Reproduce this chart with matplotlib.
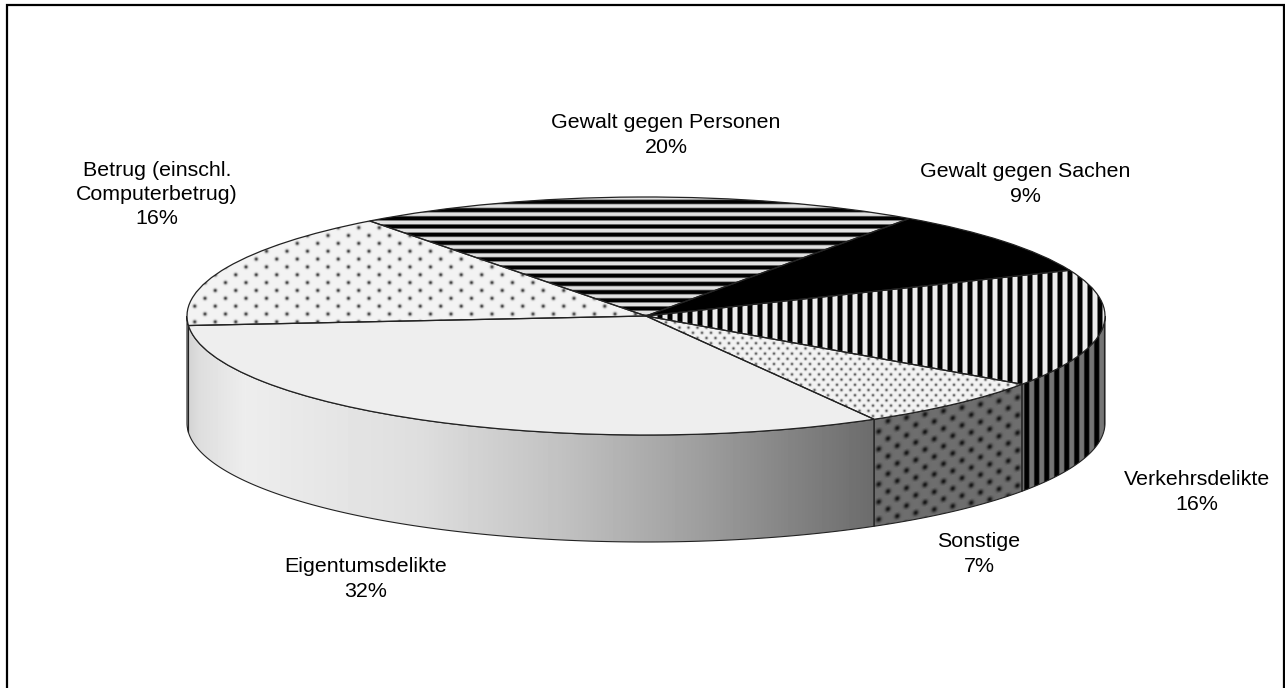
import numpy as np
import matplotlib
matplotlib.use("Agg")
import matplotlib.pyplot as plt
from matplotlib.patches import Polygon, Rectangle

plt.rcParams['font.family'] = ['Liberation Sans', 'DejaVu Sans']

categories = ["Gewalt gegen Personen", "Gewalt gegen Sachen", "Verkehrsdelikte",
              "Sonstige", "Eigentumsdelikte", "Betrug (einschl.\nComputerbetrug)"]
shares = [20, 9, 16, 7, 32, 16]

W, H = 1285, 688
CX, CY, A, B, DEPTH = 646.0, 316.0, 459.0, 119.0, 107.0
START = 127.0

fig = plt.figure(figsize=(W / 100, H / 100), dpi=100, facecolor="white")
ax = fig.add_axes([0, 0, 1, 1])
wedges, _ = ax.pie(shares, startangle=START, counterclock=False, radius=1,
                   wedgeprops=dict(facecolor="none", edgecolor="none"))
ax.set_aspect("auto")
ax.set_xlim(-CX / A, (W - CX) / A)
ax.set_ylim((CY - H) / B, CY / B)
ax.axis("off")
extent = (-CX / A, (W - CX) / A, (CY - H) / B, CY / B)
X, Y = np.meshgrid(np.arange(W) + 0.5, np.arange(H) + 0.5)


def hstripes(period=8.2, low=0.0, high=0.88):
    v = 0.5 + 0.5 * np.cos(2 * np.pi * (Y - 206) / period)
    return low + (high - low) * np.clip((v - 0.22) / 0.6, 0, 1)


def vstripes(period=10.0, low=0.0, high=0.92, x0=5.0):
    v = 0.5 + 0.5 * np.cos(2 * np.pi * (X - x0) / period)
    return low + (high - low) * np.clip((v - 0.25) / 0.5, 0, 1)


def dots(dx, dy, bg, fg, sigma, shear=0.0):
    Yy = Y + shear * X
    row = np.round(Yy / dy)
    xx = X - (row % 2) * dx / 2
    col = np.round(xx / dx)
    d2 = (xx - col * dx) ** 2 + (Yy - row * dy) ** 2
    return bg + (fg - bg) * np.exp(-d2 / (2 * sigma ** 2))


def wall_shade():
    xs = [187, 200, 245, 420, 560, 700, 875, 1285]
    vs = [0.82, 0.87, 0.93, 0.87, 0.76, 0.62, 0.42, 0.42]
    return np.interp(X, xs, vs)


top_tex = [hstripes(), np.zeros_like(X), vstripes(),
           dots(9.0, 5.2, 0.95, 0.35, 1.0),
           np.full_like(X, 0.93),
           dots(20.5, 7.85, 0.95, 0.25, 1.3)]
wall_tex = [wall_shade(), wall_shade(), vstripes(low=0.0, high=0.46, x0=1.7),
            dots(18.5, 8.8, 0.43, 0.08, 1.9, shear=0.18),
            wall_shade(), wall_shade()]


def draw(tex, clip, z):
    im = ax.imshow(tex, cmap="gray", vmin=0, vmax=1, extent=extent, origin="upper",
                   aspect="auto", interpolation="nearest", zorder=z)
    im.set_clip_path(clip)


d = DEPTH / B
for w, tex in zip(wedges, wall_tex):
    a0, a1 = sorted((w.theta1, w.theta2))
    # keep only the part of the slice facing the viewer
    spans = []
    for k in (-360, 0, 360):
        lo, hi = max(a0 + k, 180), min(a1 + k, 360)
        if hi > lo:
            spans.append((lo, hi))
    for lo, hi in spans:
        t = np.radians(np.linspace(lo, hi, 200))
        top = np.c_[np.cos(t), np.sin(t)]
        bot = top - [0, d]
        poly = Polygon(np.r_[top, bot[::-1]], closed=True, facecolor="none",
                       edgecolor="#222222", linewidth=0.8, zorder=3)
        ax.add_patch(poly)
        draw(tex, poly, 2)

for w, tex in zip(wedges, top_tex):
    w.set_zorder(5)
    w.set_edgecolor("#222222")
    w.set_linewidth(0.9)
    draw(tex, w, 4)

ax.set_xlim(-CX / A, (W - CX) / A)
ax.set_ylim((CY - H) / B, CY / B)

label_px = [(666, 135), (1025, 184), (1197, 492), (979, 554), (366, 579), (157, 194.5)]
FS = 15.4
for cat, share, (px, py) in zip(categories, shares, label_px):
    fig.text(px / W, 1 - py / H, f"{cat}\n{share}%", ha="center", va="center",
             fontsize=FS, color="black", linespacing=1.36)

fig.add_artist(Rectangle((6.5 / W, -0.05), (1284 - 6.5) / W, 1 - 5.5 / H + 0.05,
                         transform=fig.transFigure, facecolor="none",
                         edgecolor="black", linewidth=1.6))
fig.savefig("out.png", dpi=100)
